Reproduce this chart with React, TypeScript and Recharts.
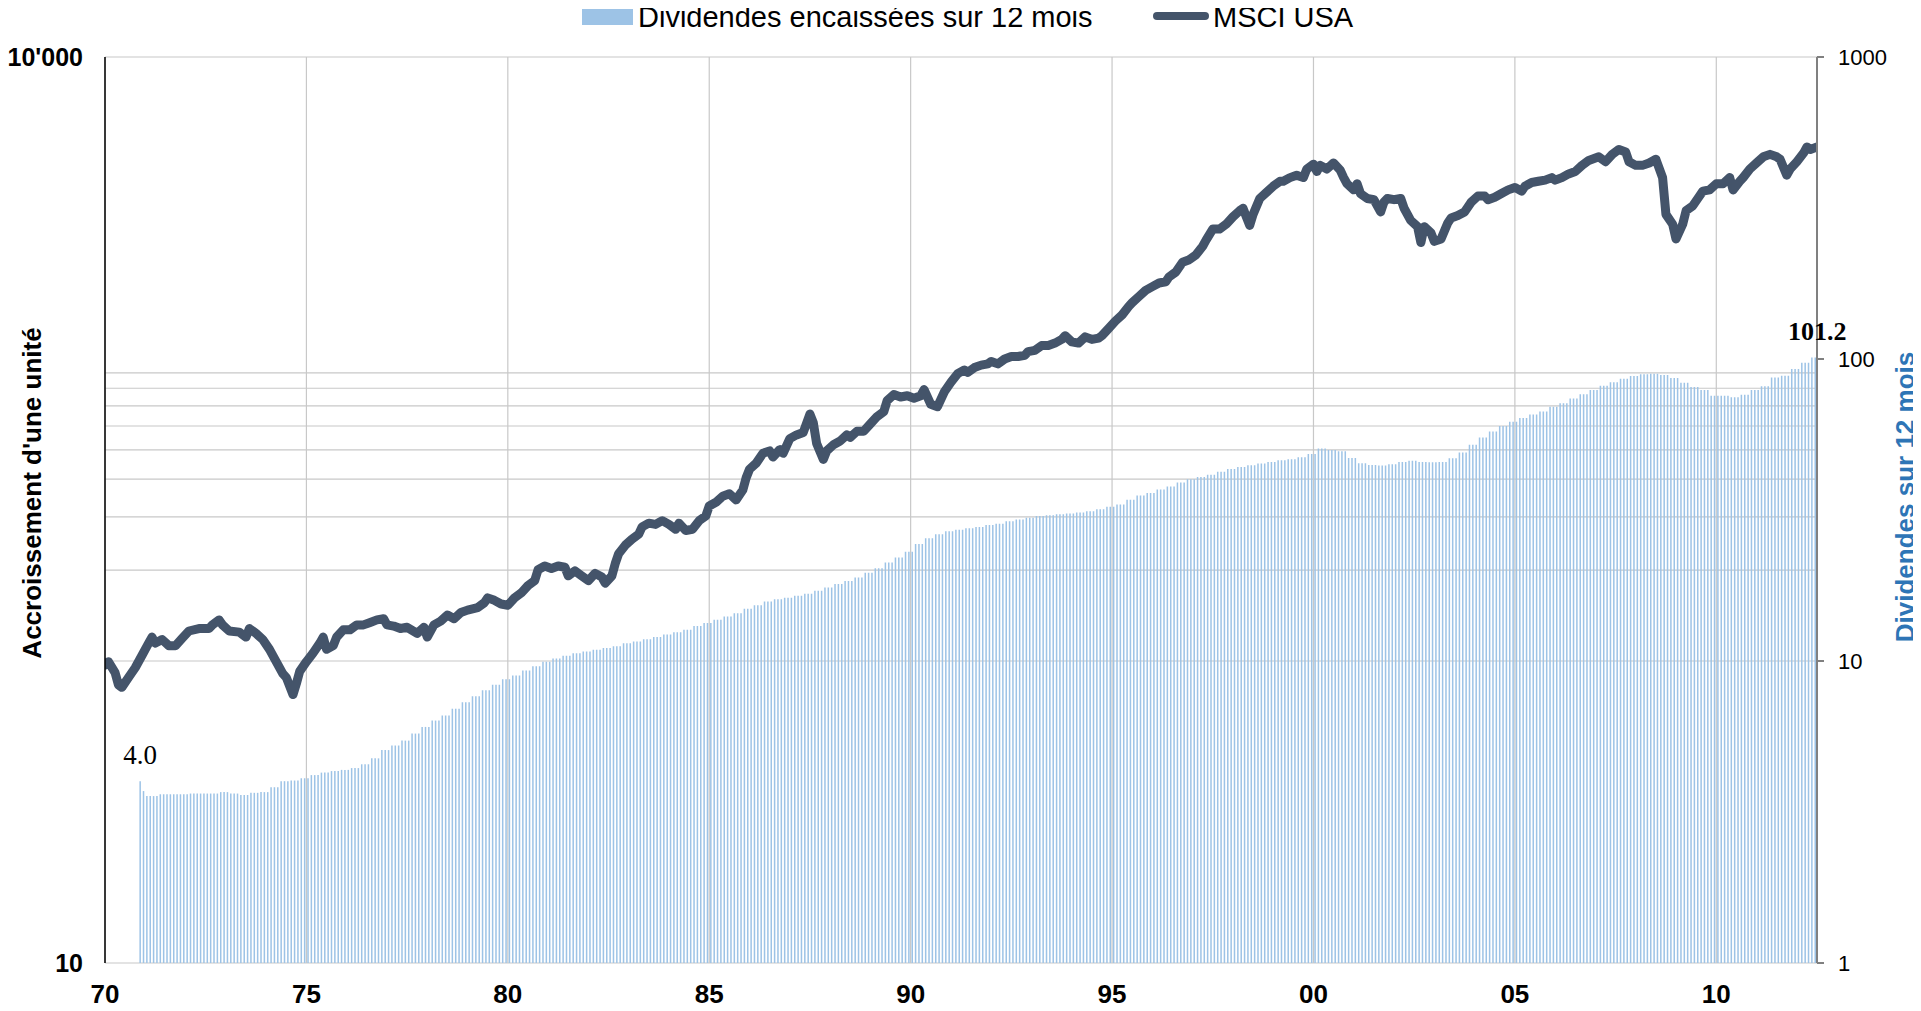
import React from "react";
import { ComposedChart, Bar, Line, XAxis, YAxis, CartesianGrid, LabelList } from "recharts";

// x axis: months since Jan 1970
const yearTickMonths = [0, 60, 120, 180, 240, 300, 360, 420, 480];
const yearTickLabels = ["70", "75", "80", "85", "90", "95", "00", "05", "10"];
const leftTicks = [10, 10000];
const leftTickLabels = ["10", "10'000"];
const rightTicks = [1, 10, 100, 1000];
const rightGridValues = [1, 10, 20, 30, 40, 50, 60, 70, 80, 90, 1000];

const seriesNames = ["Dividendes encaissées sur 12 mois", "MSCI USA"];
const leftTitle = "Accroissement d'une unité";
const rightTitle = "Dividendes sur 12 mois";

// 12-month trailing dividends, monthly, first value = Nov 1970
const dividendStartMonth = 10;
const dividends = [
  4.0, 3.71,
  3.57, 3.57, 3.57, 3.57, 3.62, 3.62, 3.62, 3.62, 3.62, 3.62, 3.62, 3.62,
  3.62, 3.64, 3.64, 3.64, 3.64, 3.64, 3.64, 3.64, 3.64, 3.64, 3.68, 3.68,
  3.68, 3.64, 3.64, 3.64, 3.6, 3.6, 3.6, 3.66, 3.66, 3.66, 3.68, 3.68,
  3.68, 3.82, 3.82, 3.82, 4.0, 4.0, 4.0, 4.02, 4.02, 4.02, 4.09, 4.09,
  4.09, 4.19, 4.19, 4.19, 4.27, 4.27, 4.27, 4.32, 4.32, 4.32, 4.36, 4.36,
  4.36, 4.42, 4.42, 4.42, 4.55, 4.55, 4.55, 4.76, 4.76, 4.76, 5.07, 5.07,
  5.07, 5.25, 5.25, 5.25, 5.45, 5.45, 5.45, 5.75, 5.75, 5.75, 6.05, 6.05,
  6.05, 6.35, 6.35, 6.35, 6.6, 6.6, 6.6, 6.95, 6.95, 6.95, 7.3, 7.3,
  7.3, 7.65, 7.65, 7.65, 8.0, 8.0, 8.0, 8.35, 8.35, 8.35, 8.7, 8.7,
  8.7, 8.95, 8.95, 8.95, 9.3, 9.3, 9.3, 9.6, 9.6, 9.6, 9.95, 9.95,
  9.95, 10.2, 10.2, 10.2, 10.4, 10.4, 10.4, 10.6, 10.6, 10.6, 10.75, 10.75,
  10.75, 10.9, 10.9, 10.9, 11.05, 11.05, 11.05, 11.2, 11.2, 11.2, 11.45, 11.45,
  11.45, 11.6, 11.6, 11.6, 11.8, 11.8, 11.8, 12.0, 12.0, 12.0, 12.25, 12.25,
  12.25, 12.45, 12.45, 12.45, 12.7, 12.7, 12.7, 13.05, 13.05, 13.05, 13.35, 13.35,
  13.35, 13.7, 13.7, 13.7, 14.05, 14.05, 14.05, 14.4, 14.4, 14.4, 14.9, 14.9,
  14.9, 15.3, 15.3, 15.3, 15.75, 15.75, 15.75, 16.0, 16.0, 16.0, 16.2, 16.2,
  16.2, 16.45, 16.45, 16.45, 16.7, 16.7, 16.7, 17.1, 17.1, 17.1, 17.5, 17.5,
  17.5, 18.0, 18.0, 18.0, 18.4, 18.4, 18.4, 18.9, 18.9, 18.9, 19.6, 19.6,
  19.6, 20.3, 20.3, 20.3, 21.2, 21.2, 21.2, 22.0, 22.0, 22.0, 23.0, 23.0,
  23.0, 24.4, 24.4, 24.4, 25.5, 25.5, 25.5, 26.3, 26.3, 26.3, 26.9, 26.9,
  26.9, 27.2, 27.2, 27.2, 27.5, 27.5, 27.5, 27.8, 27.8, 27.8, 28.2, 28.2,
  28.2, 28.5, 28.5, 28.5, 29.0, 29.0, 29.0, 29.4, 29.4, 29.4, 29.8, 29.8,
  29.8, 30.2, 30.2, 30.2, 30.4, 30.4, 30.4, 30.6, 30.6, 30.6, 30.8, 30.8,
  30.8, 31.0, 31.0, 31.0, 31.3, 31.3, 31.3, 31.8, 31.8, 31.8, 32.4, 32.4,
  32.4, 33.0, 33.0, 33.0, 34.2, 34.2, 34.2, 35.3, 35.3, 35.3, 36.0, 36.0,
  36.0, 37.0, 37.0, 37.0, 37.8, 37.8, 37.8, 39.0, 39.0, 39.0, 40.0, 40.0,
  40.0, 40.7, 40.7, 40.7, 41.4, 41.4, 41.4, 42.3, 42.3, 42.3, 43.2, 43.2,
  43.2, 43.9, 43.9, 43.9, 44.5, 44.5, 44.5, 45.1, 45.1, 45.1, 45.6, 45.6,
  45.6, 46.2, 46.2, 46.2, 46.6, 46.6, 46.6, 47.3, 47.3, 47.3, 48.5, 48.5,
  48.5, 50.5, 50.5, 50.5, 50.0, 50.0, 50.0, 49.5, 49.5, 49.5, 47.0, 47.0,
  47.0, 45.2, 45.2, 45.2, 44.6, 44.6, 44.6, 44.4, 44.4, 44.4, 44.8, 44.8,
  44.8, 45.6, 45.6, 45.6, 46.0, 46.0, 46.0, 45.6, 45.6, 45.6, 45.5, 45.5,
  45.5, 45.6, 45.6, 45.6, 46.9, 46.9, 46.9, 49.0, 49.0, 49.0, 52.0, 52.0,
  52.0, 55.0, 55.0, 55.0, 57.5, 57.5, 57.5, 60.0, 60.0, 60.0, 62.0, 62.0,
  62.0, 63.8, 63.8, 63.8, 65.5, 65.5, 65.5, 67.0, 67.0, 67.0, 69.5, 69.5,
  69.5, 71.3, 71.3, 71.3, 74.0, 74.0, 74.0, 76.5, 76.5, 76.5, 79.0, 79.0,
  79.0, 81.5, 81.5, 81.5, 83.7, 83.7, 83.7, 86.0, 86.0, 86.0, 87.8, 87.8,
  87.8, 89.0, 89.0, 89.0, 89.4, 89.4, 89.4, 88.6, 88.6, 88.6, 86.5, 86.5,
  86.5, 83.5, 83.5, 83.5, 80.7, 80.7, 80.7, 78.9, 78.9, 78.9, 75.6, 75.6,
  75.6, 75.6, 75.6, 75.6, 74.7, 74.7, 74.7, 76.2, 76.2, 76.2, 78.9, 78.9,
  78.9, 81.3, 81.3, 81.3, 86.8, 86.8, 86.8, 88.0, 88.0, 88.0, 92.6, 92.6,
  92.6, 97.2, 97.2, 97.2, 101.2, 101.2,
];
const dividendLabels = ["4.0", "101.2"];

// MSCI USA growth of one unit: [month since Jan 1970, value]
const msciSeries: [number, number][] = [
  [0, 96.8], [1, 99.5], [3, 91.5], [4, 83.4], [5, 81.8], [7, 88.2], [9, 95.0], [11, 104.3],
  [13, 114.6], [14, 120], [15, 114.6], [17, 117.8], [19, 112.4], [21, 112.4], [23, 118.9],
  [25, 125.7], [28, 128.1], [31, 128.1], [32, 131.7], [34, 136.8], [35, 131.7], [37, 125.7],
  [40, 124.6], [42, 120], [43, 128.1], [45, 123.4], [47, 117.8], [49, 109.3], [51, 99.5],
  [53, 90.7], [54, 88.2], [56, 77.4], [57, 84.1], [58, 92.4], [60, 99.5], [62, 106.3],
  [64, 114.6], [65, 120], [66, 109.3], [68, 112.4], [69, 120], [71, 126.9], [73, 126.9],
  [75, 131.7], [77, 131.7], [79, 134.2], [81, 136.8], [83, 138], [84, 131.7], [86, 130.5],
  [88, 128.1], [90, 129.3], [93, 123.4], [95, 129.3], [96, 120], [98, 131.7], [100, 135.5],
  [102, 142], [104, 138], [106, 144.7], [108, 147.4], [111, 150.2], [113, 155.9], [114, 161.8],
  [116, 158.8], [118, 154.4], [120, 153], [122, 161.8], [124, 168], [126, 177.7], [128, 184.5],
  [129, 200.6], [131, 206.3], [133, 202.5], [135, 206.3], [137, 204.4], [138, 191.4], [140, 198.7],
  [142, 191.4], [144, 184.5], [146, 195], [148, 189.7], [149, 181], [151, 191.4], [152, 210.2],
  [153, 226.5], [155, 241.8], [157, 253.3], [159, 263], [160, 278.1], [162, 286], [164, 283.4],
  [166, 291.5], [168, 283.4], [170, 273], [171, 286], [173, 270.4], [175, 273], [177, 291.5],
  [179, 302.5], [180, 326.1], [182, 335.3], [184, 351.3], [186, 357.9], [188, 341.6], [190, 368.1],
  [191, 404.4], [192, 431.5], [194, 452.2], [196, 487.2], [198, 496.4], [199, 473.7], [201, 501.1],
  [202, 487.2], [204, 545.1], [206, 560.6], [208, 571.2], [210, 657], [211, 615.3], [212, 525.2],
  [214, 465], [215, 496.4], [217, 520.3], [219, 535.1], [221, 560.6], [222, 550.3], [224, 576.5],
  [226, 576.5], [228, 609.7], [230, 644.8], [232, 669.4], [233, 728], [235, 762.7], [237, 748.6],
  [239, 755.7], [241, 741.7], [243, 755.7], [244, 791.8], [246, 707.9], [248, 694.9], [250, 777.1],
  [252, 837.5], [254, 894.2], [256, 919.7], [257, 902.7], [259, 936.9], [261, 954.5], [263, 963.6],
  [264, 981.7], [266, 963.6], [268, 1000], [270, 1019], [272, 1019], [274, 1029], [275, 1058],
  [277, 1068], [279, 1108], [281, 1108], [283, 1129], [285, 1161], [286, 1195], [288, 1140],
  [290, 1129], [292, 1184], [294, 1161], [296, 1173], [297, 1195], [299, 1263], [301, 1336],
  [303, 1400], [305, 1495], [306, 1537], [308, 1611], [310, 1688], [312, 1736], [314, 1785],
  [316, 1802], [317, 1871], [319, 1941], [321, 2092], [323, 2132], [325, 2213], [327, 2362],
  [328, 2475], [330, 2692], [332, 2692], [334, 2795], [336, 2956], [338, 3097], [339, 3156],
  [341, 2769], [342, 3012], [344, 3401], [346, 3563], [348, 3734], [350, 3877], [351, 3877],
  [353, 3987], [355, 4062], [357, 3987], [358, 4256], [360, 4418], [361, 4177], [362, 4377],
  [364, 4256], [366, 4459], [368, 4216], [369, 3987], [370, 3805], [372, 3631], [373, 3805],
  [374, 3530], [376, 3401], [378, 3369], [380, 3069], [381, 3307], [382, 3401], [384, 3369],
  [386, 3401], [387, 3156], [389, 2874], [391, 2743], [392, 2429], [393, 2743], [395, 2618],
  [396, 2452], [398, 2498], [400, 2821], [401, 2929], [403, 2985], [405, 3069], [407, 3307],
  [409, 3465], [411, 3465], [412, 3369], [414, 3433], [416, 3530], [418, 3631], [420, 3700],
  [422, 3597], [423, 3734], [425, 3840], [427, 3877], [429, 3912], [431, 3987], [432, 3912],
  [434, 3987], [436, 4101], [438, 4177], [440, 4377], [442, 4543], [443, 4586], [445, 4672],
  [447, 4501], [449, 4760], [451, 4941], [453, 4850], [454, 4501], [456, 4377], [458, 4377],
  [460, 4459], [462, 4586], [464, 3987], [465, 3012], [467, 2795], [468, 2498], [470, 2795],
  [471, 3097], [473, 3216], [475, 3465], [476, 3597], [478, 3631], [480, 3805], [482, 3805],
  [484, 3987], [485, 3631], [487, 3877], [488, 3987], [490, 4256], [492, 4459], [494, 4672],
  [496, 4760], [498, 4672], [499, 4586], [501, 4062], [502, 4256], [504, 4501], [506, 4806],
  [507, 5035], [508, 4941], [510, 5035],
];

const barData = dividends.map((v, i) => ({
  t: dividendStartMonth + i + 0.5,
  div: v,
  lbl: i === 0 ? dividendLabels[0] : i === dividends.length - 1 ? dividendLabels[1] : null,
}));
const lineData = msciSeries.map(([m, v]) => ({ t: m, msci: v }));

const SANS = '"Liberation Sans", Arial, sans-serif';
const SERIF = '"Liberation Serif", "Times New Roman", serif';
const BAR_COLOR = "#9dc3e6";
const LINE_COLOR = "#44546a";
const TITLE_BLUE = "#2e75b6";

const renderBarLabel = (p: any) => {
  if (!p.value) return null;
  const vb = p.viewBox || p;
  const bold = p.value === dividendLabels[1];
  return (
    <text
      x={vb.x + vb.width / 2 + (bold ? 2 : 0)}
      y={vb.y - 17}
      textAnchor="middle"
      fontFamily={SERIF}
      fontSize={bold ? 26 : 27}
      fontWeight={bold ? 700 : 400}
      fill="#000"
    >
      {p.value}
    </text>
  );
};

const renderLeftTitle = () => (
  <text
    x={32}
    y={493}
    transform="rotate(-90 32 493)"
    textAnchor="middle"
    dominantBaseline="central"
    fontFamily={SANS}
    fontSize={26}
    fontWeight={700}
    fill="#000"
  >
    {leftTitle}
  </text>
);

const renderRightTitle = () => (
  <text
    x={1905}
    y={497}
    transform="rotate(-90 1905 497)"
    textAnchor="middle"
    dominantBaseline="central"
    fontFamily={SANS}
    fontSize={26}
    fontWeight={700}
    fill={TITLE_BLUE}
  >
    {rightTitle}
  </text>
);

export default function App() {
  return (
    <div style={{ position: "relative", margin: "-8px 0 0 -8px", width: 1921, height: 1011, fontFamily: SANS }}>
      <div style={{ position: "absolute", left: 582, top: 9, width: 51, height: 16, background: BAR_COLOR }} />
      <div style={{ position: "absolute", left: 638, top: 1, fontSize: 29, lineHeight: "32px", color: "#000", whiteSpace: "nowrap" }}>
        {seriesNames[0]}
      </div>
      <div style={{ position: "absolute", left: 1153, top: 12, width: 56, height: 8, borderRadius: 4, background: LINE_COLOR }} />
      <div style={{ position: "absolute", left: 1213, top: 1, fontSize: 29, lineHeight: "32px", color: "#000", whiteSpace: "nowrap" }}>
        {seriesNames[1]}
      </div>
      <ComposedChart
        width={1921}
        height={1011}
        data={barData}
        margin={{ top: 57, right: 0, bottom: 0, left: 0 }}
        style={{ overflow: "visible" }}
      >
        <CartesianGrid
          stroke="#c8c8c8"
          strokeWidth={1.2}
          horizontalValues={rightGridValues}
          vertical={true}
        />
        <XAxis
          dataKey="t"
          type="number"
          domain={[0, 510]}
          allowDataOverflow
          ticks={yearTickMonths}
          interval={0}
          tickFormatter={(v: number, i: number) => yearTickLabels[i]}
          axisLine={false}
          tickLine={false}
          tickSize={0}
          tickMargin={22}
          height={48}
          tick={{ fontSize: 26, fontWeight: 700, fill: "#000", fontFamily: SANS }}
        />
        <YAxis
          yAxisId="left"
          orientation="left"
          scale="log"
          domain={[10, 10000]}
          allowDataOverflow
          ticks={leftTicks}
          interval={0}
          tickFormatter={(v: number, i: number) => leftTickLabels[i]}
          width={105}
          axisLine={{ stroke: "#000", strokeWidth: 1.5 }}
          tickLine={false}
          tickSize={0}
          tickMargin={22}
          tick={{ fontSize: 25, fontWeight: 700, fill: "#000", fontFamily: SANS }}
          label={renderLeftTitle}
        />
        <YAxis
          orientation="right"
          scale="log"
          domain={[1, 1000]}
          allowDataOverflow
          ticks={rightTicks}
          interval={0}
          width={104}
          axisLine={{ stroke: "#808080", strokeWidth: 2 }}
          tickLine={{ stroke: "#808080", strokeWidth: 2 }}
          tickSize={7}
          tickMargin={14}
          tick={{ fontSize: 22, fill: "#000", fontFamily: SANS }}
          label={renderRightTitle}
        />
        <Bar dataKey="div" barSize={3.15} fill={BAR_COLOR} isAnimationActive={false}>
          <LabelList dataKey="lbl" content={renderBarLabel} />
        </Bar>
        <Line
          yAxisId="left"
          data={lineData}
          dataKey="msci"
          type="linear"
          stroke={LINE_COLOR}
          strokeWidth={9}
          strokeLinejoin="round"
          strokeLinecap="round"
          dot={false}
          activeDot={false}
          isAnimationActive={false}
        />
      </ComposedChart>
    </div>
  );
}
